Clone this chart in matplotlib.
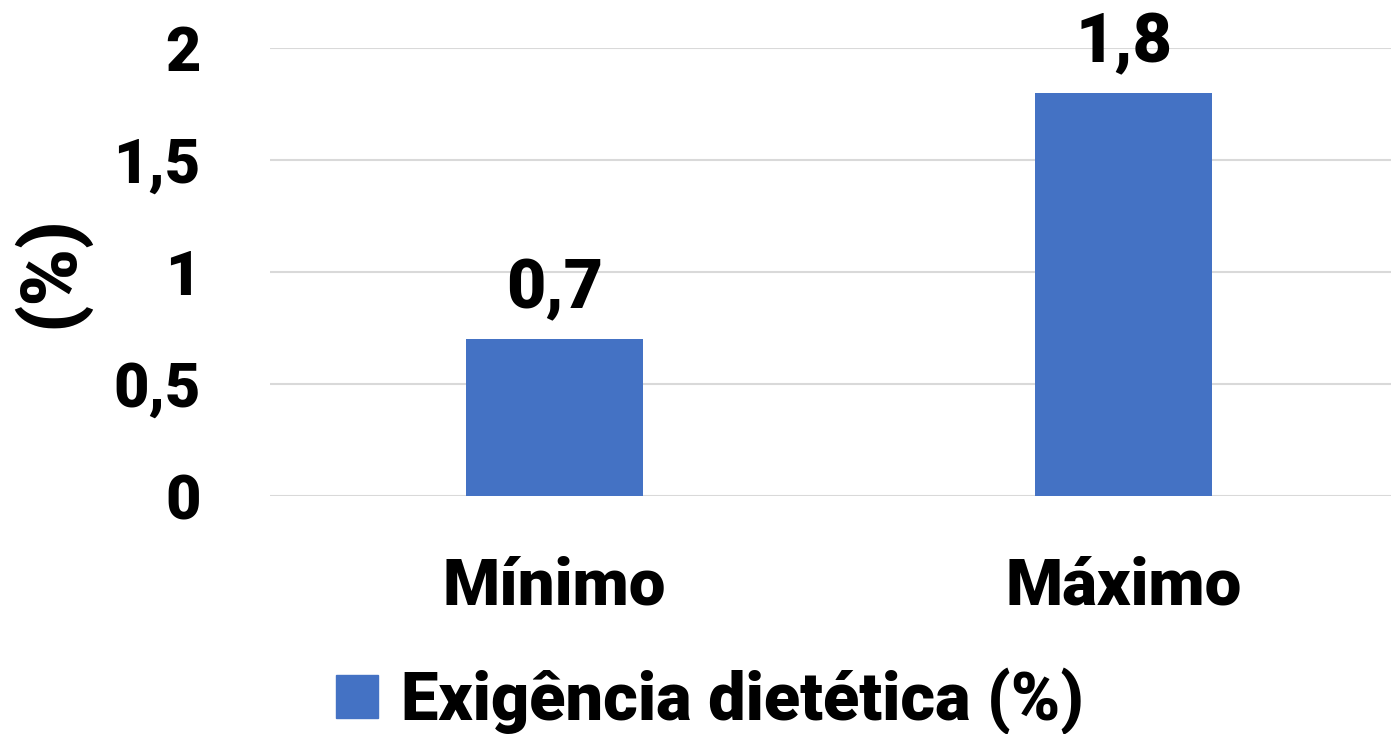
import matplotlib.pyplot as plt
from matplotlib.patches import Patch

categorias = ["Mínimo", "Máximo"]
valores = [0.7, 1.8]
rotulos = ["0,7", "1,8"]
yticks = [0, 0.5, 1, 1.5, 2]
ytick_labels = ["0", "0,5", "1", "1,5", "2"]
serie = "Exigência dietética (%)"

azul = "#4472C4"
familia = ["Roboto", "DejaVu Sans"]
fonte = dict(family=familia, weight="black", color="black")

fig = plt.figure(figsize=(13.91, 7.34), dpi=100)
ax = fig.add_axes([270 / 1391, 1 - 496 / 734, 1 - 270 / 1391, 448 / 734])

x = range(len(categorias))
ax.bar(x, valores, width=0.31, color=azul, zorder=3)

# rótulos de valor acima das barras
for xi, v, txt in zip(x, valores, rotulos):
    ax.annotate(txt, (xi, v), xytext=(0, 22), textcoords="offset points",
                ha="center", va="baseline", fontsize=49, **fonte)

ax.set_ylim(0, 2)
ax.set_xlim(-0.5, 1.47)
ax.set_yticks(yticks)
ax.set_yticklabels(ytick_labels, fontsize=44, **fonte)
ax.set_xticks(list(x))
ax.set_xticklabels(categorias, fontsize=47, **fonte)
ax.tick_params(axis="y", length=0, pad=50)
ax.tick_params(axis="x", length=0, pad=43)

ax.grid(axis="y", color="#D9D9D9", linewidth=1.5, zorder=0)
for s in ax.spines.values():
    s.set_visible(False)

fig.text(50 / 1391, 1 - 272 / 734, "(%)", rotation=90, ha="center", va="center",
         fontsize=56, **fonte)

leg = fig.legend(handles=[Patch(color=azul, label=serie)], loc="center",
                 bbox_to_anchor=(710 / 1391, 1 - 701 / 734), frameon=False,
                 handlelength=0.63, handleheight=0.63, handletextpad=0.35,
                 borderpad=0, borderaxespad=0,
                 prop=dict(family=familia, weight="black", size=48))

fig.savefig("out.png", dpi=100)
